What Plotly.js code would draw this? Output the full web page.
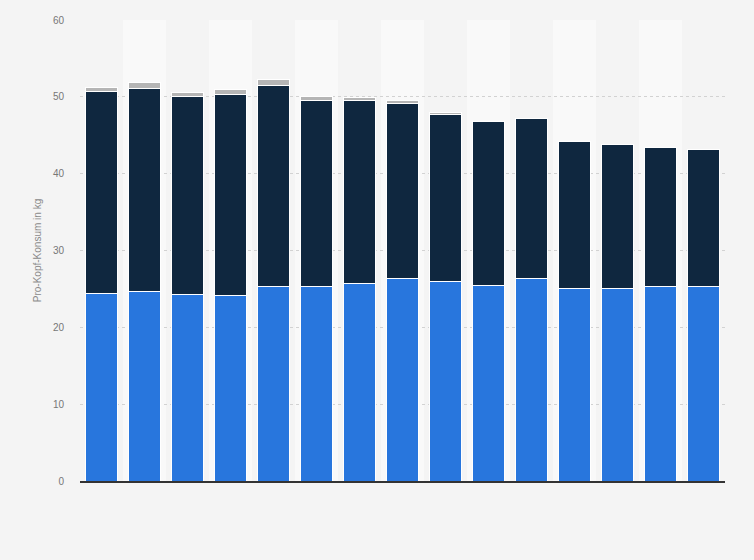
<!DOCTYPE html>
<html>
<head>
<meta charset="utf-8">
<script src="https://cdn.plot.ly/plotly-3.0.1.min.js"></script>
<style>
  html, body { margin: 0; padding: 0; background: #f4f4f4; }
  #chart { width: 754px; height: 560px; }
</style>
</head>
<body>
<div id="chart"></div>
<script>
// years (x labels are not shown in the chart)
const years = ['2005', '2006', '2007', '2008', '2009', '2010', '2011', '2012',
               '2013', '2014', '2015', '2016', '2017', '2018', '2019'];

// stacked segments, kg per head
const seriesBlue = [24.4, 24.6, 24.3, 24.1, 25.3, 25.3, 25.7, 26.3, 26.0, 25.5, 26.3, 25.1, 25.0, 25.3, 25.3];
const seriesDark = [26.3, 26.5, 25.7, 26.2, 26.2, 24.2, 23.8, 22.8, 21.75, 21.3, 20.85, 19.1, 18.85, 18.05, 17.8];
const seriesGrey = [0.5, 0.73, 0.5, 0.7, 0.75, 0.6, 0.35, 0.4, 0.2, 0, 0, 0, 0, 0, 0];

const yTicks = [0, 10, 20, 30, 40, 50, 60];

function barTrace(name, values, color) {
    return {
        type: 'bar',
        name: name,
        x: years,
        y: values,
        marker: { color: color, line: { color: '#ffffff', width: 1 } },
        hoverinfo: 'x+y+name'
    };
}

let data = [
    barTrace('Anteil 1', seriesBlue, '#2876dd'),
    barTrace('Anteil 2', seriesDark, '#0f273f'),
    barTrace('Anteil 3', seriesGrey, '#b5b5b5')
];

// alternating column bands
let bands = [];
for (let i = 1; i < years.length; i += 2) {
    bands.push({
        type: 'rect', xref: 'x', yref: 'paper',
        x0: i - 0.5, x1: i + 0.5, y0: 0, y1: 1,
        fillcolor: '#f9f9f9', line: { width: 0 }, layer: 'below'
    });
}

let layout = {
    width: 754,
    height: 560,
    paper_bgcolor: '#f4f4f4',
    plot_bgcolor: 'rgba(0,0,0,0)',
    barmode: 'stack',
    bargap: 0.24,
    showlegend: false,
    margin: { l: 80, r: 29, t: 20, b: 79 },
    font: { family: 'Liberation Sans, Arial, sans-serif', size: 10, color: '#777777' },
    xaxis: {
        type: 'category',
        showticklabels: false,
        showgrid: false,
        zeroline: false,
        showline: true,
        linecolor: '#333333',
        linewidth: 1.5,
        ticks: ''
    },
    yaxis: {
        range: [0, 60],
        tickvals: yTicks,
        showgrid: true,
        gridcolor: '#d2d2d2',
        griddash: 'dot',
        gridwidth: 1,
        zeroline: false,
        ticks: '',
        ticklabelstandoff: 15,
        tickfont: { size: 10, color: '#777777' },
        title: { text: 'Pro-Kopf-Konsum in kg', font: { size: 10, color: '#8a8a8a' }, standoff: 9 }
    },
    shapes: bands
};

Plotly.newPlot('chart', data, layout, { displayModeBar: false, staticPlot: true });
</script>
</body>
</html>
